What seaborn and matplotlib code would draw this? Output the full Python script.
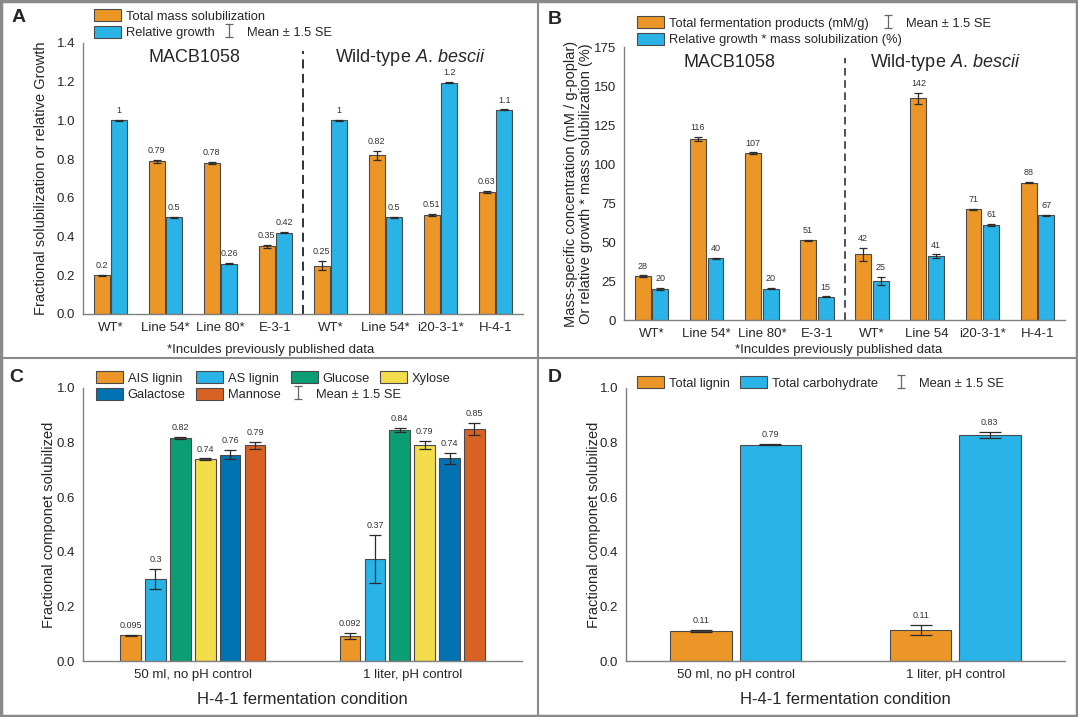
import numpy as np
import pandas as pd
import matplotlib
matplotlib.use('Agg')
import matplotlib.pyplot as plt
from matplotlib.patches import Patch
from matplotlib.lines import Line2D
from matplotlib.ticker import MultipleLocator, FormatStrFormatter
import seaborn as sns

sns.set_style('white')
plt.rcParams['font.family'] = ['Liberation Sans', 'DejaVu Sans']
plt.rcParams['mathtext.fontset'] = 'custom'
plt.rcParams['mathtext.rm'] = 'Liberation Sans'
plt.rcParams['mathtext.it'] = 'Liberation Sans:italic'
plt.rcParams['mathtext.bf'] = 'Liberation Sans:bold'

# ---------------- data ----------------
# panel A / B strains (two groups of four)
strains = ['M_WT', 'M_L54', 'M_L80', 'M_E31', 'W_WT', 'W_L54', 'W_i20', 'W_H41']
ticks_a = ['WT*', 'Line 54*', 'Line 80*', 'E-3-1',
           'WT*', 'Line 54*', 'i20-3-1*', 'H-4-1']
ticks_b = ['WT*', 'Line 54*', 'Line 80*', 'E-3-1',
           'WT*', 'Line 54', 'i20-3-1*', 'H-4-1']

mass_sol = [0.20, 0.79, 0.78, 0.35, 0.25, 0.82, 0.51, 0.63]
mass_sol_err = [0.004, 0.008, 0.005, 0.008, 0.022, 0.022, 0.006, 0.004]
mass_sol_lab = ['0.2', '0.79', '0.78', '0.35', '0.25', '0.82', '0.51', '0.63']
rel_growth = [1.0, 0.5, 0.26, 0.42, 1.0, 0.5, 1.195, 1.055]
rel_growth_err = [0.002] * 8
rel_growth_lab = ['1', '0.5', '0.26', '0.42', '1', '0.5', '1.2', '1.1']

ferm = [28, 116, 107, 51, 42, 142, 71, 88]
ferm_err = [0.6, 1.3, 0.4, 0.4, 4.0, 3.5, 0.4, 0.4]
ferm_lab = ['28', '116', '107', '51', '42', '142', '71', '88']
growth_sol = [20, 39.5, 20, 14.8, 25, 41, 61, 67]
growth_sol_err = [0.5, 0.5, 0.4, 0.3, 2.5, 1.0, 0.6, 0.5]
growth_sol_lab = ['20', '40', '20', '15', '25', '41', '61', '67']

# panel C / D conditions
conditions = ['50 ml, no pH control', '1 liter, pH control']
components = ['AIS lignin', 'AS lignin', 'Glucose', 'Xylose', 'Galactose', 'Mannose']
comp_vals = [[0.095, 0.092], [0.30, 0.373], [0.816, 0.845],
             [0.739, 0.790], [0.756, 0.742], [0.791, 0.851]]
comp_errs = [[0.002, 0.011], [0.038, 0.088], [0.004, 0.008],
             [0.003, 0.015], [0.017, 0.021], [0.013, 0.022]]
comp_labs = [['0.095', '0.092'], ['0.3', '0.37'], ['0.82', '0.84'],
             ['0.74', '0.79'], ['0.76', '0.74'], ['0.79', '0.85']]

totals = ['Total lignin', 'Total carbohydrate']
total_vals = [[0.11, 0.113], [0.793, 0.828]]
total_errs = [[0.003, 0.019], [0.001, 0.01]]
total_labs = [['0.11', '0.11'], ['0.79', '0.83']]

ORANGE = '#EC9628'
BLUE = '#29B3E7'
GREEN = '#0B9E74'
YELLOW = '#F3DD4A'
DBLUE = '#0072B2'
VERM = '#DA6124'
EDGE = '#4a4a4a'
GRAY = '#808080'

W, H = 1078, 717
fig = plt.figure(figsize=(W / 100, H / 100), dpi=100)


def px_rect(x0, x1, y0, y1):
    return [x0 / W, 1 - y1 / H, (x1 - x0) / W, (y1 - y0) / H]


def fx(x):
    return x / W


def fy(y):
    return 1 - y / H


def bar_panel(ax, cats, names, vals, errs, labs, colors, width, gap, capsize):
    rows = []
    for name, v in zip(names, vals):
        for c, val in zip(cats, v):
            rows.append({'cat': c, 'series': name, 'value': val})
    df = pd.DataFrame(rows)
    sns.barplot(data=df, x='cat', y='value', hue='series', order=cats,
                hue_order=names, palette=colors, width=width, gap=gap,
                edgecolor=EDGE, linewidth=0.8, errorbar=None, legend=False,
                saturation=1, ax=ax, zorder=2)
    for cont, e, lab in zip(ax.containers, errs, labs):
        xs = [b.get_x() + b.get_width() / 2 for b in cont]
        hs = [b.get_height() for b in cont]
        ax.errorbar(xs, hs, yerr=e, fmt='none', ecolor='#2b2b2b',
                    elinewidth=0.9, capsize=capsize, capthick=0.9, zorder=3)
        for x, h, ee, t in zip(xs, hs, e, lab):
            ax.annotate(t, (x, h + ee), xytext=(0, 3.5), textcoords='offset points',
                        ha='center', va='bottom', fontsize=6.5, color='#333333')


def style_axes(ax, ymax, major, minor):
    sns.despine(ax=ax)
    for s in ['left', 'bottom']:
        ax.spines[s].set_color(GRAY)
        ax.spines[s].set_linewidth(1.0)
    ax.set_ylim(0, ymax)
    ax.yaxis.set_major_locator(MultipleLocator(major))
    ax.yaxis.set_minor_locator(MultipleLocator(minor))
    ax.tick_params(axis='both', which='major', direction='out', length=3.5,
                   width=0.9, color=GRAY, labelsize=9.5, pad=2)
    ax.tick_params(axis='y', which='minor', direction='out', length=2,
                   width=0.8, color=GRAY)
    ax.set_xlabel('')


def err_handle(ax):
    return ax.errorbar([np.nan], [np.nan], yerr=[np.nan], fmt='none',
                       ecolor='#666666', elinewidth=0.9, capsize=3, capthick=0.9)


leg_kw = dict(loc='upper left', bbox_transform=fig.transFigure, frameon=False,
              fontsize=9.3, borderpad=0, borderaxespad=0, handlelength=2.1,
              handleheight=1.1, handletextpad=0.35, labelspacing=0.25,
              columnspacing=0.8)
err_kw = dict(leg_kw, handlelength=1.2, handletextpad=0.8)

wild_title = r'Wild-type $\mathit{A.\,bescii}$'

# ---------------- panel A ----------------
axA = fig.add_axes(px_rect(83, 523, 43, 314))
bar_panel(axA, strains, ['Total mass solubilization', 'Relative growth'],
          [mass_sol, rel_growth], [mass_sol_err, rel_growth_err],
          [mass_sol_lab, rel_growth_lab], [ORANGE, BLUE], 0.64, 0.1, 3)
style_axes(axA, 1.4, 0.2, 0.1)
axA.set_xlim(-0.5, 7.5)
axA.set_xticks(range(len(strains)))
axA.set_xticklabels(ticks_a)
axA.yaxis.set_major_formatter(FormatStrFormatter('%.1f'))
axA.set_ylabel('Fractional solubilization or relative Growth', fontsize=10.5)
axA.yaxis.set_label_coords(-0.08, 0.5)
axA.axvline(3.5, ymin=0, ymax=0.97, color='#222222', ls=(0, (5, 3)), lw=1.3)
axA.text(1.52, 1.325, 'MACB1058', ha='center', va='center', fontsize=13)
axA.text(5.46, 1.325, wild_title, ha='center', va='center', fontsize=13)
legA = axA.legend([Patch(facecolor=ORANGE, edgecolor=EDGE, lw=0.8),
                   Patch(facecolor=BLUE, edgecolor=EDGE, lw=0.8)],
                  ['Total mass solubilization', 'Relative growth'],
                  bbox_to_anchor=(fx(94), fy(9)), **leg_kw)
axA.add_artist(legA)
axA.legend([err_handle(axA)], ['Mean ± 1.5 SE'],
           bbox_to_anchor=(fx(221), fy(25)), **err_kw)
fig.text(fx(271), fy(350), '*Inculdes previously published data',
         ha='center', va='center', fontsize=9.5)

# ---------------- panel B ----------------
axB = fig.add_axes(px_rect(624, 1065, 47, 320))
bar_panel(axB, strains, ['Total fermentation products (mM/g)',
                         'Relative growth * mass solubilization (%)'],
          [ferm, growth_sol], [ferm_err, growth_sol_err],
          [ferm_lab, growth_sol_lab], [ORANGE, BLUE], 0.64, 0.1, 3)
style_axes(axB, 175, 25, 12.5)
axB.set_xlim(-0.5, 7.5)
axB.set_xticks(range(len(strains)))
axB.set_xticklabels(ticks_b)
axB.set_ylabel('Mass-specific concentration (mM / g-poplar)\n'
               'Or relative growth * mass solubilization (%)', fontsize=10.5,
               linespacing=1.1)
axB.yaxis.set_label_coords(-0.07, 0.5)
axB.axvline(3.5, ymin=0, ymax=0.96, color='#222222', ls=(0, (5, 3)), lw=1.1)
axB.text(1.42, 165, 'MACB1058', ha='center', va='center', fontsize=13)
axB.text(5.33, 165, wild_title, ha='center', va='center', fontsize=13)
legB = axB.legend([Patch(facecolor=ORANGE, edgecolor=EDGE, lw=0.8),
                   Patch(facecolor=BLUE, edgecolor=EDGE, lw=0.8)],
                  ['Total fermentation products (mM/g)',
                   'Relative growth * mass solubilization (%)'],
                  bbox_to_anchor=(fx(637), fy(16)), **leg_kw)
axB.add_artist(legB)
axB.legend([err_handle(axB)], ['Mean ± 1.5 SE'],
           bbox_to_anchor=(fx(880), fy(16)), **err_kw)
fig.text(fx(839), fy(350), '*Inculdes previously published data',
         ha='center', va='center', fontsize=9.5)

# ---------------- panel C ----------------
axC = fig.add_axes(px_rect(83, 522, 388, 661))
comp_colors = [ORANGE, BLUE, GREEN, YELLOW, DBLUE, VERM]
bar_panel(axC, conditions, components, comp_vals, comp_errs, comp_labs,
          comp_colors, 0.68, 0.17, 4)
style_axes(axC, 1.0, 0.2, 0.1)
axC.set_xlim(-0.5, 1.5)
axC.yaxis.set_major_formatter(FormatStrFormatter('%.1f'))
axC.set_ylabel('Fractional componet solubilized', fontsize=10.5)
axC.yaxis.set_label_coords(-0.062, 0.5)
axC.set_xlabel('H-4-1 fermentation condition', fontsize=12)
axC.xaxis.set_label_coords(0.5, -0.115)
order = [0, 4, 1, 5, 2, 3]
legC = axC.legend([Patch(facecolor=comp_colors[i], edgecolor=EDGE, lw=0.8) for i in order],
                  [components[i] for i in order], ncol=4,
                  bbox_to_anchor=(fx(96), fy(371)), **leg_kw)
axC.add_artist(legC)
axC.legend([err_handle(axC)], ['Mean ± 1.5 SE'],
           bbox_to_anchor=(fx(290), fy(387)), **err_kw)

# ---------------- panel D ----------------
axD = fig.add_axes(px_rect(626, 1065, 388, 661))
bar_panel(axD, conditions, totals, total_vals, total_errs, total_labs,
          [ORANGE, BLUE], 0.63, 0.11, 8)
style_axes(axD, 1.0, 0.2, 0.1)
axD.set_xlim(-0.5, 1.5)
axD.yaxis.set_major_formatter(FormatStrFormatter('%.1f'))
axD.set_ylabel('Fractional componet solubilized', fontsize=10.5)
axD.yaxis.set_label_coords(-0.057, 0.5)
axD.set_xlabel('H-4-1 fermentation condition', fontsize=12)
axD.xaxis.set_label_coords(0.5, -0.115)
legD = axD.legend([Patch(facecolor=ORANGE, edgecolor=EDGE, lw=0.8),
                   Patch(facecolor=BLUE, edgecolor=EDGE, lw=0.8)],
                  totals, ncol=2, bbox_to_anchor=(fx(637), fy(376)), **leg_kw)
axD.add_artist(legD)
axD.legend([err_handle(axD)], ['Mean ± 1.5 SE'],
           bbox_to_anchor=(fx(893), fy(376)), **err_kw)

# panel letters and frame lines
for letter, x, y in [('A', 12, 18), ('B', 548, 19), ('C', 9, 377), ('D', 548, 377)]:
    fig.text(fx(x), fy(y), letter, fontsize=14, fontweight='bold',
             ha='left', va='center')

frame_kw = dict(color='#8a8a8a', lw=1.5, transform=fig.transFigure)
fig.add_artist(Line2D([fx(538), fx(538)], [0, 1], **frame_kw))
fig.add_artist(Line2D([0, 1], [fy(358), fy(358)], **frame_kw))
for xs_, ys_ in [([0, 1], [0.001, 0.001]), ([0, 1], [0.999, 0.999]),
                 ([0.001, 0.001], [0, 1]), ([0.999, 0.999], [0, 1])]:
    fig.add_artist(Line2D(xs_, ys_, color='#8a8a8a', lw=2.5,
                          transform=fig.transFigure))

fig.savefig('out.png', dpi=100)
